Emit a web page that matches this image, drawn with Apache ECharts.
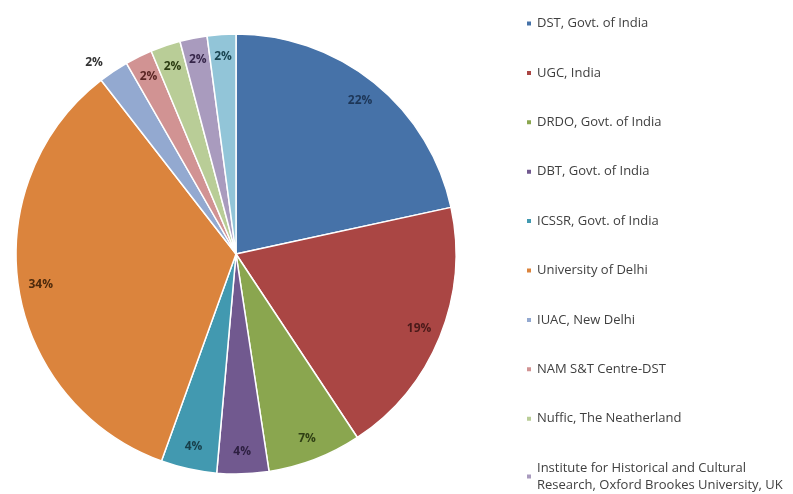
<!DOCTYPE html>
<html>
<head>
<meta charset="utf-8">
<script src="https://cdn.jsdelivr.net/npm/echarts@6/dist/echarts.min.js"></script>
<style>
html,body{margin:0;padding:0;background:#fff;}
#chart{width:793px;height:494px;}
</style>
</head>
<body>
<div id="chart"></div>
<script>
var categories = [
  'DST, Govt. of India',
  'UGC, India',
  'DRDO, Govt. of India',
  'DBT, Govt. of India',
  'ICSSR, Govt. of India',
  'University of Delhi',
  'IUAC, New Delhi',
  'NAM S&T Centre-DST',
  'Nuffic, The Neatherland',
  'Institute for Historical and Cultural Research, Oxford Brookes University, UK',
  'Other'
];
// shares (%); labels show them rounded
var values = [21.6, 19.1, 6.9, 3.8, 4.1, 34.0, 2.2, 2.0, 2.2, 2.0, 2.1];
var legendNames = categories.slice(0, 10);
var sliceColors = ['#4672a8','#aa4644','#8aa64f','#71598f','#4299b0','#db843d','#93a9d0','#d19393','#b9cd97','#a99bbe','#92c5d8'];
var labelColors = ['#1d3657','#4a1a19','#2f3f14','#2d1f40','#173f4a','#4d2a0c','#333333','#5a2524','#2c3d12','#36264a','#1a4552'];

var chart = echarts.init(document.getElementById('chart'));
var R = 220;
var CENTER = [236, 254];
var mainData = categories.map(function(n, i){
  return { name: n, value: values[i], itemStyle: { color: sliceColors[i] } };
});
var labelData = categories.map(function(n, i){
  var d = { name: n, value: values[i], label: { color: labelColors[i] } };
  if (i === 6) {
    d.label.position = 'outside';
    d.labelLine = { show: false, length: 10, length2: 0 };
  }
  return d;
});
chart.setOption({
  animation: false,
  backgroundColor: '#ffffff',
  legend: {
    data: legendNames,
    orient: 'vertical',
    left: 520,
    top: 10,
    height: 1000,
    itemWidth: 6,
    itemHeight: 6,
    itemGap: 32.4,
    icon: 'rect',
    selectedMode: false,
    textStyle: { fontFamily: 'Open Sans', fontSize: 13, color: '#404040', lineHeight: 17 },
    formatter: function(name){
      if (name.indexOf('Institute') === 0) {
        return 'Institute for Historical and Cultural\nResearch, Oxford Brookes University, UK';
      }
      return name;
    }
  },
  series: [
    {
      type: 'pie',
      center: CENTER,
      radius: [0, R],
      startAngle: 90,
      clockwise: true,
      avoidLabelOverlap: false,
      label: { show: false },
      labelLine: { show: false },
      itemStyle: { borderColor: '#ffffff', borderWidth: 1.5 },
      emphasis: { disabled: true },
      data: mainData
    },
    {
      type: 'pie',
      center: CENTER,
      radius: [R * 0.77, R],
      startAngle: 90,
      clockwise: true,
      silent: true,
      avoidLabelOverlap: false,
      itemStyle: { color: 'rgba(0,0,0,0)' },
      emphasis: { disabled: true },
      label: {
        show: true,
        position: 'inside',
        formatter: function(p){ return Math.round(p.percent) + '%'; },
        fontFamily: 'Open Sans',
        fontSize: 12,
        fontWeight: 'bold'
      },
      labelLine: { show: false },
      data: labelData
    }
  ]
});
</script>
</body>
</html>
